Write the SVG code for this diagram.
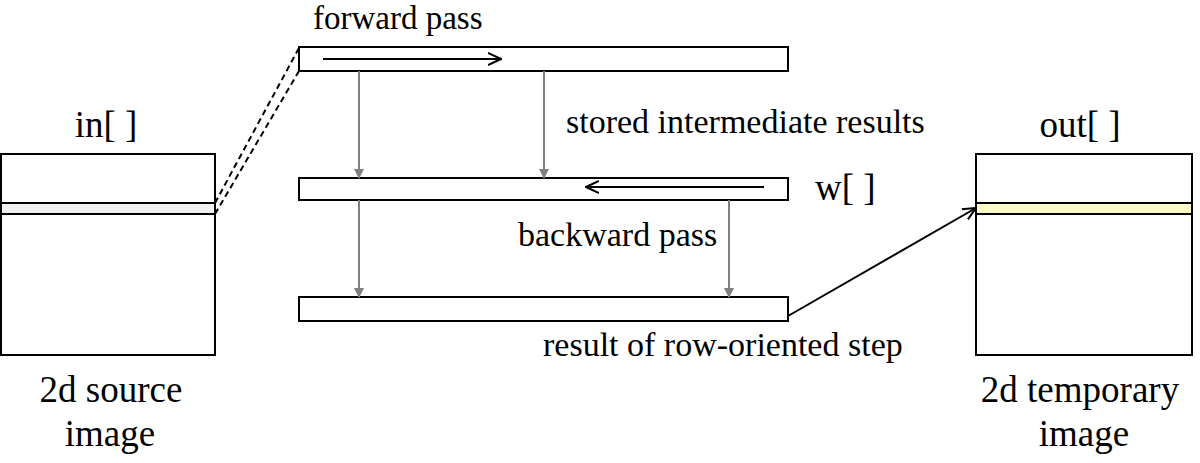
<svg xmlns="http://www.w3.org/2000/svg" width="1200" height="463" viewBox="0 0 1200 463">
<defs>
<marker id="gtri" markerWidth="10" markerHeight="10" refX="9" refY="5" orient="auto" markerUnits="userSpaceOnUse" viewBox="0 0 10 10">
<path d="M0,0 L10,5 L0,10 z" fill="#808080"/>
</marker>
<marker id="open" markerWidth="14" markerHeight="14" refX="13" refY="7" orient="auto" markerUnits="userSpaceOnUse" viewBox="0 0 14 14">
<path d="M0,1 L13,7 L0,13" fill="none" stroke="#000" stroke-width="2"/>
</marker>
</defs>
<rect width="1200" height="463" fill="#fff"/>
<g id="in">
<rect x="1" y="154" width="214" height="201" fill="#fff" stroke="#000" stroke-width="2"/>
<rect x="1" y="203" width="214" height="11" fill="#f0f0f0" stroke="#000" stroke-width="2"/>
<text x="106" y="137" text-anchor="middle" font-family="Liberation Serif, serif" font-size="37">in[ ]</text>
<text x="111" y="402" text-anchor="middle" font-family="Liberation Serif, serif" font-size="37">2d source</text>
<text x="110" y="446" text-anchor="middle" font-family="Liberation Serif, serif" font-size="37">image</text>
</g>
<g id="forward">
<rect x="299" y="47" width="489" height="24" fill="#fff" stroke="#000" stroke-width="2"/>
<text x="313" y="29" font-family="Liberation Serif, serif" font-size="33">forward pass</text>
</g>
<g id="w">
<rect x="299" y="178" width="489" height="22" fill="#fff" stroke="#000" stroke-width="2"/>
<text x="815" y="200" font-family="Liberation Serif, serif" font-size="37">w[ ]</text>
</g>
<g id="result">
<rect x="299" y="297" width="489" height="24" fill="#fff" stroke="#000" stroke-width="2"/>
<text x="543" y="356" font-family="Liberation Serif, serif" font-size="34">result of row-oriented step</text>
</g>
<g id="out">
<rect x="976" y="154" width="216" height="201" fill="#fff" stroke="#000" stroke-width="2"/>
<rect x="976" y="203" width="216" height="11" fill="#fdfbc6" stroke="#000" stroke-width="2"/>
<text x="1080" y="137" text-anchor="middle" font-family="Liberation Serif, serif" font-size="37">out[ ]</text>
<text x="1080" y="402" text-anchor="middle" font-family="Liberation Serif, serif" font-size="37">2d temporary</text>
<text x="1084" y="446" text-anchor="middle" font-family="Liberation Serif, serif" font-size="37">image</text>
</g>
<g id="connectors" fill="none" stroke-width="2">
<line x1="215" y1="203" x2="299" y2="48" stroke="#000" stroke-dasharray="6,4"/>
<line x1="215" y1="214" x2="299" y2="71" stroke="#000" stroke-dasharray="6,4"/>
<line x1="323" y1="59" x2="501" y2="59" stroke="#000" marker-end="url(#open)"/>
<line x1="764" y1="187" x2="586" y2="187" stroke="#000" marker-end="url(#open)"/>
<line x1="359" y1="71" x2="359" y2="178" stroke="#808080" marker-end="url(#gtri)"/>
<line x1="544" y1="71" x2="544" y2="178" stroke="#808080" marker-end="url(#gtri)"/>
<line x1="359" y1="200" x2="359" y2="297" stroke="#808080" marker-end="url(#gtri)"/>
<line x1="729" y1="200" x2="729" y2="297" stroke="#808080" marker-end="url(#gtri)"/>
<line x1="788" y1="316" x2="976" y2="208" stroke="#000" marker-end="url(#open)"/>
<text x="566" y="133" font-family="Liberation Serif, serif" font-size="34" fill="#000" stroke="none">stored intermediate results</text>
<text x="518" y="246" font-family="Liberation Serif, serif" font-size="34" fill="#000" stroke="none">backward pass</text>
</g>
</svg>
